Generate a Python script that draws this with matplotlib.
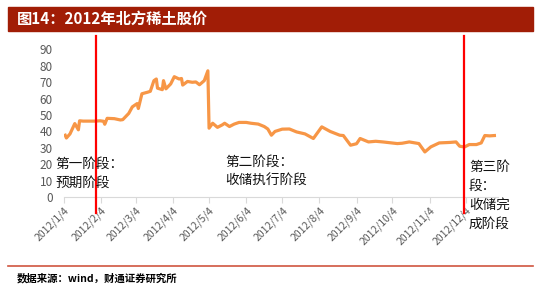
import matplotlib
matplotlib.use("Agg")
import matplotlib.pyplot as plt
import matplotlib.dates as mdates
from matplotlib.patches import Rectangle
from matplotlib.lines import Line2D
import pandas as pd

plt.rcParams['font.family'] = ['Noto Sans CJK SC', 'DejaVu Sans']

# 北方稀土 2012 股价
dates = ["2012-01-05", "2012-01-06", "2012-01-09", "2012-01-13", "2012-01-16", "2012-01-17",
         "2012-01-20", "2012-01-30", "2012-02-03", "2012-02-06", "2012-02-07", "2012-02-09",
         "2012-02-15", "2012-02-20", "2012-02-22", "2012-02-27", "2012-03-01", "2012-03-05",
         "2012-03-06", "2012-03-09", "2012-03-14", "2012-03-16", "2012-03-19", "2012-03-21",
         "2012-03-22", "2012-03-26", "2012-03-27", "2012-03-29", "2012-04-02", "2012-04-05",
         "2012-04-09", "2012-04-11", "2012-04-12", "2012-04-16", "2012-04-20", "2012-04-23",
         "2012-04-26", "2012-04-30", "2012-05-03", "2012-05-04", "2012-05-07", "2012-05-11",
         "2012-05-15", "2012-05-17", "2012-05-21", "2012-05-25", "2012-05-29", "2012-06-04",
         "2012-06-08", "2012-06-14", "2012-06-19", "2012-06-22", "2012-06-25", "2012-06-28",
         "2012-07-04", "2012-07-10", "2012-07-16", "2012-07-23", "2012-07-30", "2012-08-06",
         "2012-08-13", "2012-08-21", "2012-08-24", "2012-08-30", "2012-09-04", "2012-09-07",
         "2012-09-14", "2012-09-20", "2012-09-26", "2012-10-08", "2012-10-12", "2012-10-18",
         "2012-10-26", "2012-10-31", "2012-11-05", "2012-11-12", "2012-11-21", "2012-11-26",
         "2012-11-29", "2012-12-03", "2012-12-07", "2012-12-13", "2012-12-17", "2012-12-20",
         "2012-12-24", "2012-12-28"]
prices = [37.7, 36.0, 38.5, 44.8, 41.0, 46.5,
          46.3, 46.3, 46.5, 46.2, 44.4, 48.0,
          47.8, 47.0, 47.2, 51.0, 55.0, 57.0,
          54.0, 63.0, 64.0, 64.5, 71.0, 72.0,
          66.4, 65.5, 71.0, 66.0, 69.0, 73.4,
          72.0, 72.3, 68.3, 70.5, 70.0, 70.2,
          68.5, 71.0, 77.0, 42.0, 45.0, 42.5,
          44.0, 45.0, 43.0, 44.5, 45.5, 45.5,
          45.0, 44.5, 43.0, 41.5, 37.7, 40.0,
          41.4, 41.5, 39.7, 38.5, 35.7, 42.8,
          40.0, 37.7, 37.5, 31.6, 32.5, 35.7,
          33.6, 34.0, 33.6, 32.6, 32.8, 33.6,
          32.6, 27.5, 30.6, 33.0, 33.3, 33.6,
          31.0, 30.5, 32.0, 32.0, 33.0, 37.5,
          37.3, 37.5]

month_ticks = ["2012-%02d-04" % m for m in range(1, 13)]
tick_labels = ["2012/%d/4" % m for m in range(1, 13)]
stage_lines = ["2012-01-31", "2012-12-03"]

W, H = 550, 294
fig = plt.figure(figsize=(W / 100, H / 100), dpi=100)
ax = fig.add_axes([64 / W, 1 - 197 / H, (498 - 64) / W, (197 - 49.5) / H])

x = pd.to_datetime(dates)
ax.plot(x, prices, color="#F79646", lw=2.3, solid_joinstyle="round", zorder=3)

for d in stage_lines:
    ax.plot([pd.Timestamp(d)] * 2, [-10, 98.5], color="#FF0000", lw=1.6,
            clip_on=False, zorder=4)

ax.set_ylim(0, 90)
ax.set_xlim(pd.Timestamp("2012-01-04"), pd.Timestamp("2012-12-31"))
ax.set_yticks(range(0, 91, 10))
ax.set_xticks(pd.to_datetime(month_ticks))
ax.set_xticklabels(tick_labels, rotation=45, ha="right", rotation_mode="anchor")
ax.tick_params(axis="y", length=0, labelsize=8.5, labelcolor="#595959", pad=8)
ax.tick_params(axis="x", length=4, color="#D9D9D9", labelsize=7.5,
               labelcolor="#595959", pad=2)
for s in ["top", "right", "left"]:
    ax.spines[s].set_visible(False)
ax.spines["bottom"].set_color("#D9D9D9")

# title bar
fig.patches.append(Rectangle((8 / W, 1 - 31 / H), (533 - 8) / W, 24 / H,
                             transform=fig.transFigure, color="#A11D06", zorder=0))
fig.text(17 / W, 1 - 19 / H, "图14：2012年北方稀土股价", color="white",
         fontsize=11, fontweight="bold", va="center")

# stage notes
note = dict(fontsize=9.8, color="#111111", va="center", linespacing=1.45)
fig.text(55 / W, 1 - 173 / H, "第一阶段：\n预期阶段", **note)
fig.text(225 / W, 1 - 171 / H, "第二阶段：\n收储执行阶段", **note)
fig.text(469 / W, 1 - 195 / H, "第三阶\n段：\n收储完\n成阶段", **note)

# bottom rule + source
fig.lines.append(Line2D([8 / W, 533 / W], [1 - 266 / H] * 2, transform=fig.transFigure,
                        color="#D0553F", lw=1.2))
fig.text(17 / W, 1 - 278 / H, "数据来源：wind，财通证券研究所", fontsize=7.5,
         fontweight="bold", va="center", color="black")

fig.savefig("out.png", dpi=100)
